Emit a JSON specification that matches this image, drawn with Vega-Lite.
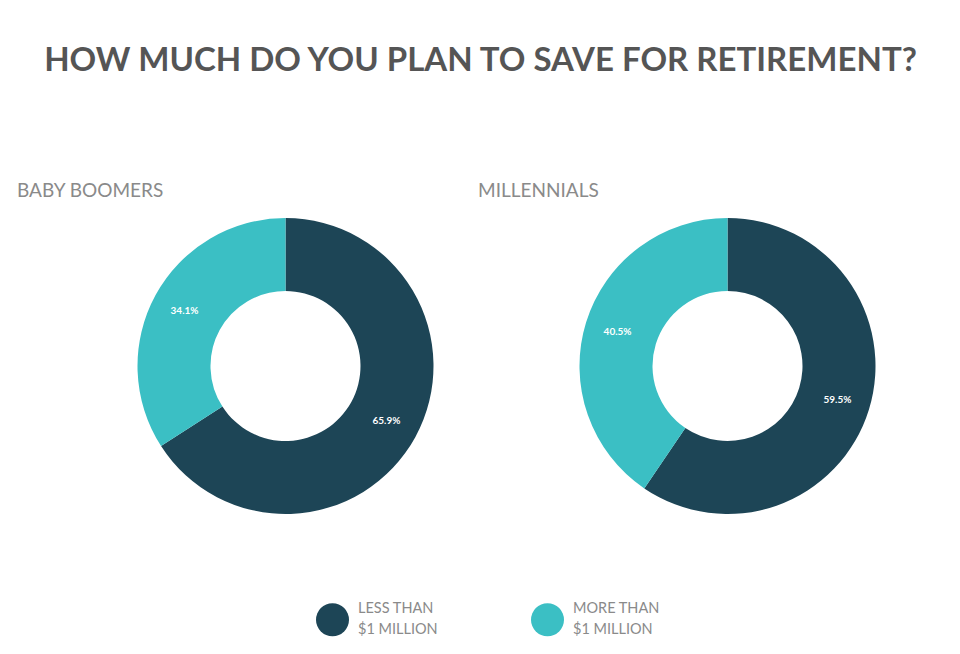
{
  "$schema": "https://vega.github.io/schema/vega-lite/v6.json",
  "background": "white",
  "padding": {"left": 17, "top": 45, "right": 10, "bottom": 10},
  "title": {
    "text": "HOW MUCH DO YOU PLAN TO SAVE FOR RETIREMENT?",
    "font": "Lato",
    "fontSize": 33,
    "fontWeight": "bold",
    "color": "#555555",
    "anchor": "middle",
    "dx": 34,
    "offset": 104
  },
  "datasets": {
    "boomers": [
      {"plan": "Less than $1 million", "share": 0.659},
      {"plan": "More than $1 million", "share": 0.341}
    ],
    "millennials": [
      {"plan": "Less than $1 million", "share": 0.595},
      {"plan": "More than $1 million", "share": 0.405}
    ]
  },
  "config": {
    "view": {"stroke": null},
    "concat": {"spacing": 44},
    "title": {"font": "Lato", "fontSize": 19, "fontWeight": "normal", "color": "#8a8a8a", "anchor": "start", "offset": 17}
  },
  "hconcat": [
    {
      "title": {"text": "BABY BOOMERS", "dx": -120},
      "data": {"name": "boomers"},
      "width": 297,
      "height": 296,
      "layer": [
        {
          "mark": {"type": "arc", "innerRadius": 75, "outerRadius": 148},
          "encoding": {
            "theta": {"field": "share", "type": "quantitative", "stack": true},
            "color": {
              "field": "plan",
              "type": "nominal",
              "scale": {"domain": ["Less than $1 million", "More than $1 million"], "range": ["#1d4556", "#3bbfc4"]},
              "legend": {
                "title": null,
                "orient": "none",
                "direction": "horizontal",
                "legendX": 179,
                "legendY": 385,
                "symbolType": "circle",
                "symbolSize": 1089,
                "symbolStrokeWidth": 0,
                "symbolOpacity": 1,
                "labelFont": "Lato",
                "labelFontSize": 14.5,
                "labelColor": "#8a8a8a",
                "labelOffset": 9,
                "columnPadding": 93,
                "labelExpr": "datum.label == 'Less than $1 million' ? ['LESS THAN', '$1 MILLION'] : ['MORE THAN', '$1 MILLION']",
                "encode": {"labels": {"update": {"lineHeight": {"value": 21}, "dy": {"value": -10.5}}}}
              }
            }
          }
        },
        {
          "mark": {"type": "text", "radius": 115, "color": "white", "fontSize": 10, "fontWeight": "bold", "font": "Lato"},
          "encoding": {
            "theta": {"field": "share", "type": "quantitative", "stack": true},
            "text": {"field": "share", "type": "quantitative", "format": ".1%"},
            "order": {"field": "plan"}
          }
        }
      ]
    },
    {
      "title": {"text": "MILLENNIALS", "dx": -101},
      "data": {"name": "millennials"},
      "width": 297,
      "height": 296,
      "layer": [
        {
          "mark": {"type": "arc", "innerRadius": 75, "outerRadius": 148},
          "encoding": {
            "theta": {"field": "share", "type": "quantitative", "stack": true},
            "color": {"field": "plan", "type": "nominal"}
          }
        },
        {
          "mark": {"type": "text", "radius": 115, "color": "white", "fontSize": 10, "fontWeight": "bold", "font": "Lato"},
          "encoding": {
            "theta": {"field": "share", "type": "quantitative", "stack": true},
            "text": {"field": "share", "type": "quantitative", "format": ".1%"},
            "order": {"field": "plan"}
          }
        }
      ]
    }
  ]
}
